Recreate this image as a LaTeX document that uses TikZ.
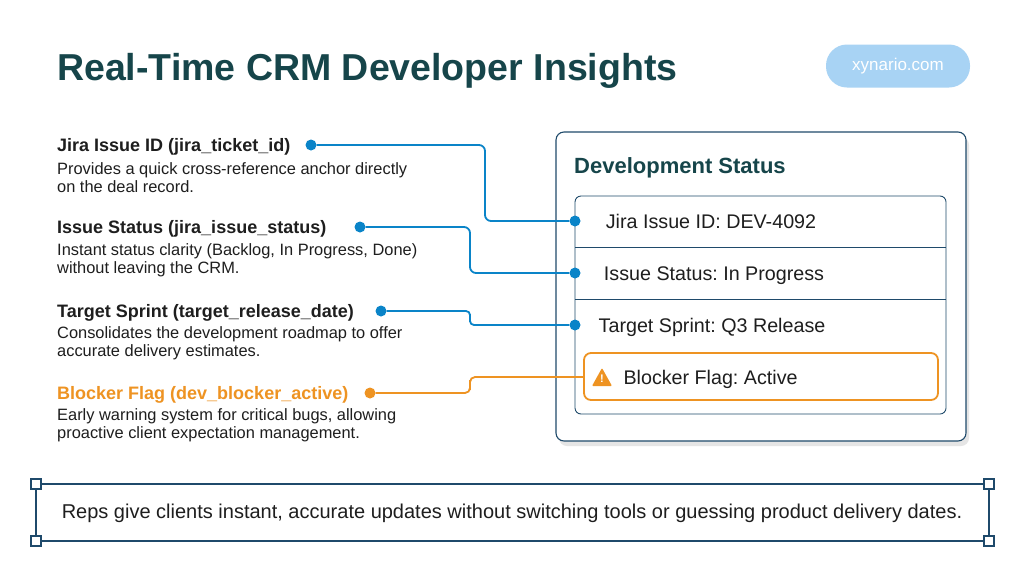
\documentclass[tikz,border=0pt]{standalone}
\usepackage{fontspec}
\setmainfont{Liberation Sans}
\frenchspacing
\begin{document}
\begin{tikzpicture}[x=1pt,y=-1pt,
  conn/.style={line width=1.8pt,rounded corners=6pt},
  dot/.style={circle,fill=#1,inner sep=0pt,minimum size=11pt},
  head/.style={anchor=base west,font=\fontsize{18}{18}\selectfont\bfseries,text=ctext},
  desc/.style={anchor=north west,align=left,font=\fontsize{16.4}{18.5}\selectfont,text=ctext,inner sep=0pt},
  row/.style={anchor=base,font=\fontsize{19.7}{20}\selectfont,text=ctext}]
\definecolor{cteal}{HTML}{16454A}
\definecolor{ctext}{HTML}{1E1E1E}
\definecolor{cblue}{HTML}{0A84C8}
\definecolor{corange}{HTML}{EE9322}
\definecolor{cpill}{HTML}{A8D3F4}
\definecolor{cframe}{HTML}{1F4A6B}
\useasboundingbox[fill=white] (0,0) rectangle (1024,576);
\node[anchor=base west,inner sep=0pt,font=\fontsize{37.5}{38}\selectfont\bfseries,text=cteal] (title) at (57,80) {Real-Time CRM Developer Insights};
\node[fill=cpill,rounded corners=21pt,minimum width=144pt,minimum height=43pt,text=white,font=\fontsize{17}{18}\selectfont] (pill) at (898,66) {xynario.com};
% left
\node[head,inner sep=0pt] (h1) at (57,151) {Jira Issue ID (jira\_ticket\_id)};
\node[desc] (d1) at (57,162) {Provides a quick cross-reference anchor directly\\on the deal record.};
\node[head,inner sep=0pt] (h2) at (57,233) {Issue Status (jira\_issue\_status)};
\node[desc] (d2) at (57,243) {Instant status clarity (Backlog, In Progress, Done)\\without leaving the CRM.};
\node[head,inner sep=0pt] (h3) at (57,317) {Target Sprint (target\_release\_date)};
\node[desc] (d3) at (57,326) {Consolidates the development roadmap to offer\\accurate delivery estimates.};
\node[head,inner sep=0pt,text=corange] (h4) at (57,399) {Blocker Flag (dev\_blocker\_active)};
\node[desc] (d4) at (57,408) {Early warning system for critical bugs, allowing\\proactive client expectation management.};
% card
\fill[gray!20,rounded corners=8pt] (559,137) rectangle (969,446);
\draw[cframe,line width=1.1pt,fill=white,rounded corners=8pt] (556,132) rectangle (966,441);
\node[anchor=base west,inner sep=0pt,font=\fontsize{22}{24}\selectfont\bfseries,text=cteal] (ct) at (574,173) {Development Status};
\draw[cframe,line width=0.9pt,rounded corners=6pt] (575,196) rectangle (946,414);
\draw[cframe,line width=0.9pt] (575,247) -- (946,247) (575,299) -- (946,299);
\node[row] (r1) at (711,228) {Jira Issue ID: DEV-4092};
\node[row] (r2) at (714,280) {Issue Status: In Progress};
\node[row] (r3) at (712,332) {Target Sprint: Q3 Release};
\draw[corange,line width=1.8pt,fill=white,rounded corners=7pt] (584,353) rectangle (938,400);
\node[row,anchor=base west] (r4) at (620,384) {Blocker Flag: Active};
\fill[corange,rounded corners=1pt] (592,386) -- (602,368) -- (612,386) -- cycle;
\node[text=white,font=\fontsize{11}{11}\selectfont\bfseries,inner sep=0pt] (ex) at (602,379) {!};
% dots
\node[dot=cblue] (a1) at (311,145) {};
\node[dot=cblue] (a2) at (360,227) {};
\node[dot=cblue] (a3) at (381,311) {};
\node[dot=corange] (a4) at (370,393) {};
\node[dot=cblue] (b1) at (575,221) {};
\node[dot=cblue] (b2) at (575,273) {};
\node[dot=cblue] (b3) at (575,325) {};
\coordinate (b4) at (584,377);
\draw[conn,cblue] (a1) -| (485,180) |- (b1);
\draw[conn,cblue] (a2) -| (470,250) |- (b2);
\draw[conn,cblue,rounded corners=4pt] (a3) -| (470,318) |- (b3);
\draw[conn,corange,rounded corners=5pt] (a4) -| (470,385) |- (b4);
% bottom
\draw[cframe,line width=1.8pt] (36,484) rectangle (989,541);
\foreach \p/\n in {{36,484}/c1,{989,484}/c2,{36,541}/c3,{989,541}/c4}
  \node[draw=cframe,fill=white,line width=1.2pt,minimum size=10pt,inner sep=0pt] (\n) at (\p) {};
\node[font=\fontsize{20}{20}\selectfont,text=ctext] (bt) at (512,513) {Reps give clients instant, accurate updates without switching tools or guessing product delivery dates.};
\end{tikzpicture}
\end{document}
